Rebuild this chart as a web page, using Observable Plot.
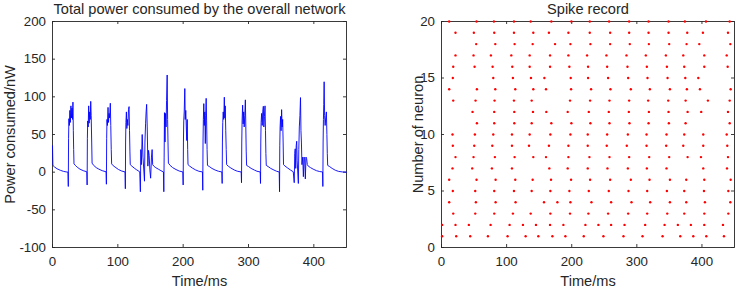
<!DOCTYPE html>
<html><head><meta charset="utf-8">
<script src="https://cdn.jsdelivr.net/npm/d3@7"></script>
<script src="https://cdn.jsdelivr.net/npm/@observablehq/plot@0.6"></script>
<style>
html,body{margin:0;padding:0;background:#fff;}
#wrap{position:relative;width:737px;height:290px;overflow:hidden;background:#fff;}
#wrap svg{position:absolute;top:0;}
</style></head><body><div id="wrap"></div>
<script>
// ---------- data ----------
const timeTicks = [0, 100, 200, 300, 400];
const powerTicks = [-100, -50, 0, 50, 100, 150, 200];
const neuronTicks = [0, 5, 10, 15, 20];

const powerTime = [
  0, 0.6, 3, 7, 12, 17, 22, 23.7,
  24.2, 24.6, 25.1, 25.8, 26.6, 27.3, 28.2, 29, 29.8, 30.6, 31.3, 31.9, 32.4, 32.9, 35, 38, 42, 47, 52.5,
  53, 53.4, 53.9, 54.6, 55.4, 56.1, 57, 57.8, 58.5, 59.2, 60, 60.6, 63, 67, 71, 76, 82,
  82.5, 82.9, 83.4, 84.1, 85, 85.7, 86.6, 87.4, 88.5, 89.2, 89.9, 90.5, 93, 97, 101, 106, 111,
  111.5, 111.9, 112.4, 113.1, 113.8, 114.6, 115.4, 116.3, 117.2, 117.9, 118.5, 119, 121.5, 125, 129, 133.5,
  134.5, 135.2, 136, 137.3, 138.5, 140.8, 141.5, 142.5, 143.3, 144.1, 145, 146, 147, 148, 149, 150.2, 151.5, 152.5, 153.3, 155, 158, 162, 166, 169.8,
  170.4, 170.9, 171.4, 172.2, 173, 173.8, 174.6, 175.5, 176.2, 176.8, 177.4, 180, 184, 189, 194, 199.5,
  200, 200.4, 200.9, 201.6, 202.5, 203.2, 204, 204.8, 205.5, 206.2, 206.9, 207.4, 210, 214, 219, 224, 229.5,
  230, 230.4, 230.9, 231.6, 232.3, 233.1, 233.9, 234.5, 235.2, 235.9, 236.6, 237.2, 240, 244, 249, 254, 259.2,
  259.7, 260.1, 260.6, 261.3, 262.1, 263, 263.7, 264.4, 265.2, 265.9, 266.5, 269, 273, 278, 283, 288.8,
  289.3, 289.7, 290.2, 291, 291.8, 292.6, 293.4, 294.3, 295.2, 295.9, 296.5, 297.1, 300, 304, 309, 313, 317.9,
  318.4, 318.8, 319.3, 320.1, 321, 321.8, 322.7, 323.5, 324.4, 325.3, 326, 326.6, 327.2, 330, 334, 339, 343, 347,
  347.5, 347.9, 348.4, 349.1, 349.9, 350.7, 351.5, 352.3, 353, 353.6, 356, 360, 364, 368.5,
  370, 370.8, 371.5, 372.3, 373, 373.8, 374.5, 376.3, 377, 377.8, 378.7, 379.6, 380.3, 381, 381.8, 383, 384, 385, 386, 387, 388, 389, 390, 391.5, 395, 399, 404, 409, 413.3,
  413.8, 414.2, 414.7, 415.2, 415.8, 416.5, 417.3, 418.2, 419.2, 420, 420.6, 421.2, 424, 428, 433, 438, 444, 450
];
const powerValue = [
  35, 9, 7, 4.5, 2.5, 1, 0.2, 0,
  -19, 45, 71, 62, 82, 66, 88, 72, 85, 70, 93, 55, 30, 11, 9, 6.5, 4, 2, 0.5,
  -17, 45, 68, 60, 88, 65, 80, 70, 94, 75, 40, 12, 9, 6, 4, 2, 0.5,
  -16, 45, 70, 62, 86, 66, 78, 72, 91.5, 62, 30, 11, 8.5, 6, 3.5, 1.5, 0.3,
  -22, 40, 66, 80, 58, 70, 62, 83, 87, 55, 28, 10, 8, 5.5, 3, 0.5,
  -26, 30, 10, 50, 20, -12, 40, 65, 80, 90, 60, 8, 29, 22, 3, -8, 20, 30, 10, 8, 6, 4, 2, 0.3,
  -26, 20, 79, 40, 78, 60, 95, 129, 70, 40, 12, 9, 6, 3.5, 1.5, 0.3,
  -17, 40, 68, 80, 111, 70, 82, 60, 42, 70, 30, 10, 8, 5.5, 3, 1.2, 0.3,
  -24, 40, 70, 91, 62, 80, 38, 75, 98, 68, 30, 9, 7.5, 5, 2.8, 1.2, 0.3,
  -15, 40, 66, 80, 70, 99.5, 72, 88, 55, 30, 10, 8, 5.5, 3, 1.2, 0.3,
  -14, 40, 68, 89, 64, 80, 60, 75, 96, 60, 28, 9, 7.5, 5, 2.8, 1.2, 0.3,
  -15, 40, 66, 78, 62, 80, 87.5, 60, 74, 88, 55, 25, 9, 7.5, 5, 2.8, 1.2, 0.3,
  -26, 35, 60, 74, 55, 83, 60, 70, 40, 10, 8, 5.5, 3, 0.5,
  -14, 25, 31, 5, 35, 41, 15, -15, 30, 60, 75, 99, 55, 40, 10, 20, -6, 20, 19, -9, 20, 18, 10, 8, 6, 4, 2, 0.8, 0.3,
  -19, 40, 70, 90, 120, 75, 62, 72, 80, 50, 25, 9, 7.5, 5, 2.5, 1, 0.3, 0
];

// spike times (ms) for neurons 1..20
const spikeTimesByNeuron = [
  [1, 22.6, 44.1, 71.3, 101.5, 129.2, 148.7, 170.3, 190.3, 218.5, 248.7, 279.5, 308.7, 339.5, 366.7, 386.7, 406.7, 433.8],
  [1, 21.5, 42, 75.4, 104.6, 125.1, 145.1, 166.7, 187.2, 221, 241, 260.5, 281.1, 312.8, 342.6, 363, 383, 403.6, 432.3],
  [18, 51.8, 81, 109.7, 137, 167.2, 197.4, 225.6, 255.9, 286.7, 315.9, 346.7, 372.8, 403.6, 440.5],
  [11.8, 52.8, 83.1, 113.8, 157.4, 178, 198, 230.3, 260.5, 291.8, 320.5, 350.8, 375.9, 404.6, 443.6],
  [17.4, 51.8, 81, 111.3, 138.5, 167.2, 196.4, 226.2, 256.9, 287.2, 315.9, 346.2, 372.8, 403.1, 440.5],
  [11.8, 53.8, 83.1, 113.3, 140, 168.2, 199, 228.2, 259, 290.8, 319.5, 350.8, 375.9, 403.6, 444.1],
  [16.9, 47.2, 77.4, 108.2, 165.6, 193.8, 224.6, 254.9, 286.2, 315.4, 345.6, 402, 438.5],
  [21.5, 49.2, 82, 112.3, 141, 160.5, 194.9, 227.2, 258, 288.2, 319, 349.7, 378, 398.5, 440],
  [17.4, 50.3, 78, 108.2, 134.4, 165, 194.9, 224.6, 253.8, 284.6, 314.9, 345.1, 371.3, 402, 438.9],
  [16.9, 51.3, 79.5, 108.2, 135.4, 167.2, 198, 224.6, 254.4, 286.2, 314.9, 345.6, 372.8, 402, 438],
  [54.4, 81, 111.8, 138.5, 168.7, 199.5, 228.7, 258, 288.7, 318, 349.2, 374.9, 442.6],
  [47.7, 81, 111.8, 140.5, 161, 193.8, 226.2, 256.9, 287.7, 318.5, 348.7, 378, 398.9, 440],
  [18, 52.3, 81.5, 111.3, 138.5, 197.4, 228.2, 258, 288.2, 317.4, 348.2, 374.9, 409.2, 442.6],
  [11.8, 54.4, 82.6, 113.3, 141, 160.5, 199, 229.7, 259.5, 290.8, 320, 350.8, 376.9, 396.9, 444.1],
  [17.4, 79.5, 109.7, 137.4, 158, 198.5, 225.1, 255.9, 286.7, 316.4, 347.2, 374.4, 394.4],
  [18, 50.8, 78.5, 108.7, 135.4, 166.7, 196.4, 225.1, 254.4, 285.6, 315.4, 346.2, 372.8, 403.6, 439.5],
  [21.5, 49.2, 75.9, 107.2, 135.4, 166.7, 194.9, 223.6, 253.3, 284.1, 313.8, 344.6, 371.3, 403.6, 438],
  [53.3, 82.6, 112.3, 140, 174.4, 198, 228.7, 259, 289.2, 318.5, 349.7, 376.4, 395.9, 443.6],
  [21.5, 49.7, 81, 111.3, 141, 165, 194.9, 227.7, 259, 288.2, 318, 348.7, 377.4, 401.5, 440],
  [11.8, 53.8, 80.5, 111.3, 137, 168.7, 199.5, 227.7, 257.4, 288.2, 318, 348.7, 373.8, 406.2, 442.6]
];

// ---------- tables ----------
const powerData = powerTime.map((t, i) => ({t, v: powerValue[i]}));
const spikes = spikeTimesByNeuron.flatMap((times, i) => times.map(t => ({t, n: i + 1})));

// ---------- drawing ----------
const font = "'Liberation Sans', Arial, Helvetica, sans-serif";
const ink = "#262626";
const H = 290, MT = 21, MB = 43;

function panel({width, marginLeft, marginRight, xDomain, xTicks, yDomain, yTicks, title, xLabel, yLabel, yLabelDx, marks}) {
  const innerH = H - MT - MB;
  const innerW = width - marginLeft - marginRight;
  const tick = 3;
  const txt = {fontSize: 14.6, fill: ink, textAnchor: "middle", lineAnchor: "middle"};
  return Plot.plot({
    width, height: H, marginLeft, marginRight, marginTop: MT, marginBottom: MB,
    style: {fontFamily: font, fontSize: "13.3px", color: ink, background: "transparent", overflow: "visible"},
    x: {domain: xDomain},
    y: {domain: yDomain},
    marks: [
      Plot.frame({stroke: ink, strokeWidth: 0.9}),
      Plot.ruleX(xTicks, {x: d => d, insetTop: innerH - tick, stroke: ink, strokeWidth: 0.9}),
      Plot.ruleX(xTicks, {x: d => d, insetBottom: innerH - tick, stroke: ink, strokeWidth: 0.9}),
      Plot.ruleY(yTicks, {y: d => d, insetRight: innerW - tick, stroke: ink, strokeWidth: 0.9}),
      Plot.ruleY(yTicks, {y: d => d, insetLeft: innerW - tick, stroke: ink, strokeWidth: 0.9}),
      Plot.axisX({ticks: xTicks, tickSize: 0, tickPadding: 9.5, tickFormat: d => String(d), label: null, fontSize: 13.3, fill: ink}),
      Plot.axisY({ticks: yTicks, tickSize: 0, tickPadding: 6.5, tickFormat: d => String(d), label: null, fontSize: 13.3, fill: ink}),
      Plot.text([title], {...txt, frameAnchor: "top", dy: -12.5}),
      Plot.text([xLabel], {...txt, frameAnchor: "bottom", dy: 34}),
      Plot.text([yLabel], {...txt, frameAnchor: "left", dx: yLabelDx, rotate: -90}),
      ...marks
    ]
  });
}

const left = panel({
  width: 390, marginLeft: 52, marginRight: 44,
  xDomain: [0, 450], xTicks: timeTicks,
  yDomain: [-100, 200], yTicks: powerTicks,
  title: "Total power consumed by the overall network",
  xLabel: "Time/ms", yLabel: "Power consumed/nW", yLabelDx: -42.2,
  marks: [Plot.line(powerData, {x: "t", y: "v", stroke: "#0000ff", strokeWidth: 0.9})]
});
left.style.left = "0px";

const right = panel({
  width: 347, marginLeft: 51, marginRight: 3,
  xDomain: [0, 450], xTicks: timeTicks,
  yDomain: [0, 20], yTicks: neuronTicks,
  title: "Spike record",
  xLabel: "Time/ms", yLabel: "Number of neuron", yLabelDx: -22.7,
  marks: [Plot.dot(spikes, {x: "t", y: "n", r: 1.2, fill: "#ff0000", stroke: null})]
});
right.style.left = "390px";

const wrap = document.getElementById("wrap");
wrap.appendChild(left);
wrap.appendChild(right);
</script>
</body></html>
